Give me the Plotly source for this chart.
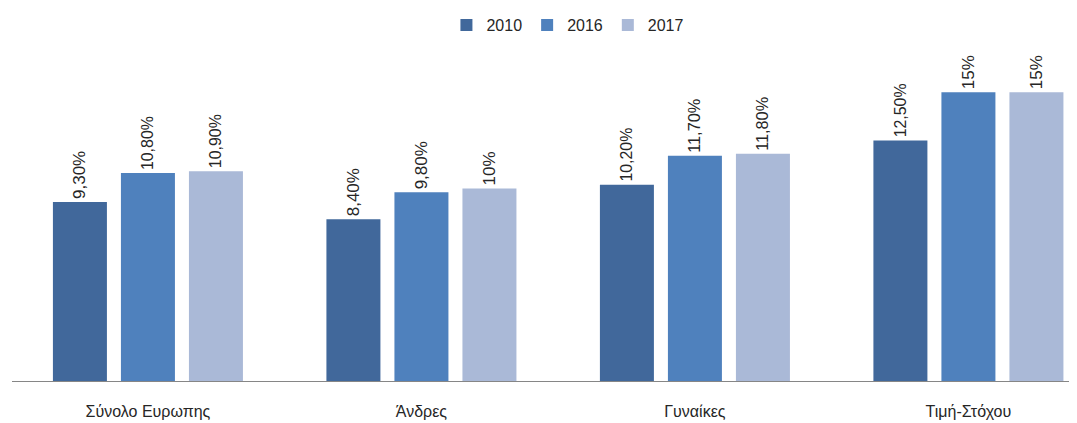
import plotly.graph_objects as go

categories = ["Σύνολο Ευρωπης", "Άνδρες", "Γυναίκες", "Τιμή-Στόχου"]
years = ["2010", "2016", "2017"]
values_2010 = [9.3, 8.4, 10.2, 12.5]
values_2016 = [10.8, 9.8, 11.7, 15.0]
values_2017 = [10.9, 10.0, 11.8, 15.0]
labels_2010 = ["9,30%", "8,40%", "10,20%", "12,50%"]
labels_2016 = ["10,80%", "9,80%", "11,70%", "15%"]
labels_2017 = ["10,90%", "10%", "11,80%", "15%"]

colors = ["#41689B", "#4F81BD", "#AAB9D7"]
series = [values_2010, values_2016, values_2017]
labels = [labels_2010, labels_2016, labels_2017]

fig = go.Figure()
for name, vals, labs, col in zip(years, series, labels, colors):
    fig.add_trace(go.Bar(
        x=categories, y=vals, name=name, marker_color=col,
        marker_line_width=0,
        text=labs, textposition="outside", textangle=-90,
        textfont=dict(family="Liberation Sans", size=17, color="#262626"),
        cliponaxis=False,
    ))

# page body has an 8px margin, so the figure is sized/offset to compensate
fig.update_layout(
    width=1069, height=415,
    margin=dict(l=4, r=0, t=65, b=42),
    paper_bgcolor="white", plot_bgcolor="white",
    barmode="group", bargap=0.254, bargroupgap=0.206,
    font=dict(family="Liberation Sans", size=16, color="#262626"),
    legend=dict(orientation="h", x=0.522, xanchor="center", y=1.0, yanchor="top",
                yref="container", font=dict(size=16), itemwidth=30,
                traceorder="normal"),
    xaxis=dict(range=[-0.497, 3.397], showline=True, linecolor="#868686", linewidth=1,
               ticks="", showgrid=False, ticklabelstandoff=16,
               tickfont=dict(size=16)),
    yaxis=dict(range=[0, 16], visible=False, showgrid=False),
)
fig.write_html("out.html")
